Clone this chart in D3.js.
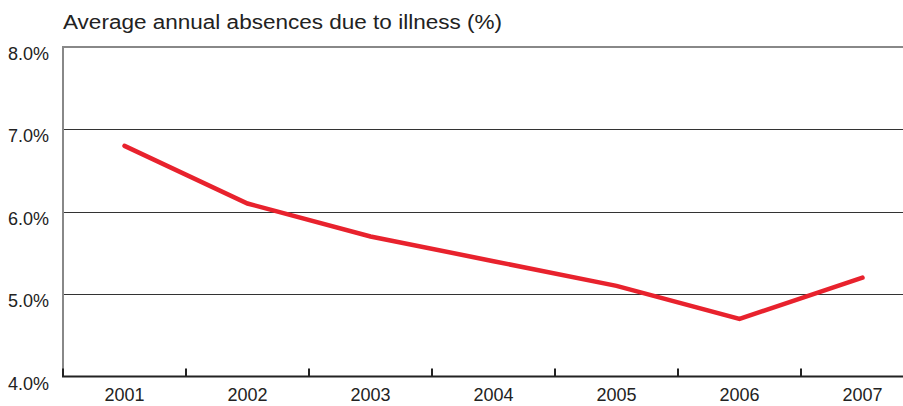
<!DOCTYPE html>
<html>
<head>
<meta charset="utf-8">
<script src="https://cdn.jsdelivr.net/npm/d3@7"></script>
<style>
  html, body { margin: 0; padding: 0; background: #fff; }
  svg { display: block; }
  text { font-family: "Liberation Sans", Arial, sans-serif; fill: #222; }
</style>
</head>
<body>
<svg id="chart" width="903" height="406"></svg>
<script>
const years = ["2001", "2002", "2003", "2004", "2005", "2006", "2007"];
const absences = [6.8, 6.1, 5.7, 5.4, 5.1, 4.7, 5.2];
const yTicks = [4, 5, 6, 7, 8];
const title = "Average annual absences due to illness (%)";

const svg = d3.select("#chart");
const mLeft = 63, plotRight = 903, mTop = 47, mBottom = 376.5;
const band = 123;

const x = d3.scaleBand().domain(years).range([mLeft, mLeft + band * years.length]).paddingInner(0).paddingOuter(0);
const y = d3.scaleLinear().domain([4, 8]).range([mBottom, mTop]);

// title
svg.append("text")
  .attr("x", mLeft).attr("y", 29)
  .attr("font-size", 20)
  .attr("textLength", 439).attr("lengthAdjust", "spacingAndGlyphs")
  .text(title);

// gridlines
svg.append("g").selectAll("line")
  .data(yTicks.filter(d => d > 4 && d < 8))
  .join("line")
  .attr("x1", mLeft).attr("x2", plotRight)
  .attr("y1", d => Math.round(y(d)) + 0.5).attr("y2", d => Math.round(y(d)) + 0.5)
  .attr("stroke", "#333").attr("stroke-width", 1);

// top line (8.0)
svg.append("line")
  .attr("x1", mLeft).attr("x2", plotRight)
  .attr("y1", y(8)).attr("y2", y(8))
  .attr("stroke", "#888").attr("stroke-width", 2);

// left axis line
svg.append("line")
  .attr("x1", mLeft).attr("x2", mLeft)
  .attr("y1", y(8) - 1).attr("y2", mBottom)
  .attr("stroke", "#888").attr("stroke-width", 2);

// y labels
svg.append("g").selectAll("text")
  .data(yTicks)
  .join("text")
  .attr("x", 49).attr("y", d => y(d) + 13)
  .attr("text-anchor", "end")
  .attr("font-size", 18)
  .text(d => d3.format(".1f")(d) + "%");

// x axis baseline
svg.append("line")
  .attr("x1", mLeft - 1).attr("x2", plotRight)
  .attr("y1", mBottom).attr("y2", mBottom)
  .attr("stroke", "#222").attr("stroke-width", 2);

// x ticks at category boundaries
const boundaries = years.map(d => x(d));
svg.append("g").selectAll("line")
  .data(boundaries)
  .join("line")
  .attr("x1", d => d).attr("x2", d => d)
  .attr("y1", mBottom - 8).attr("y2", mBottom)
  .attr("stroke", "#222").attr("stroke-width", 2);

// x labels
svg.append("g").selectAll("text")
  .data(years)
  .join("text")
  .attr("x", d => x(d) + x.bandwidth() / 2)
  .attr("y", 401)
  .attr("text-anchor", "middle")
  .attr("font-size", 18)
  .text(d => d);

// line
const line = d3.line()
  .x((d, i) => x(years[i]) + x.bandwidth() / 2)
  .y(d => y(d));

svg.append("path")
  .datum(absences)
  .attr("d", line)
  .attr("fill", "none")
  .attr("stroke", "#e8222d")
  .attr("stroke-width", 4.5)
  .attr("stroke-linejoin", "miter")
  .attr("stroke-linecap", "round");
</script>
</body>
</html>
